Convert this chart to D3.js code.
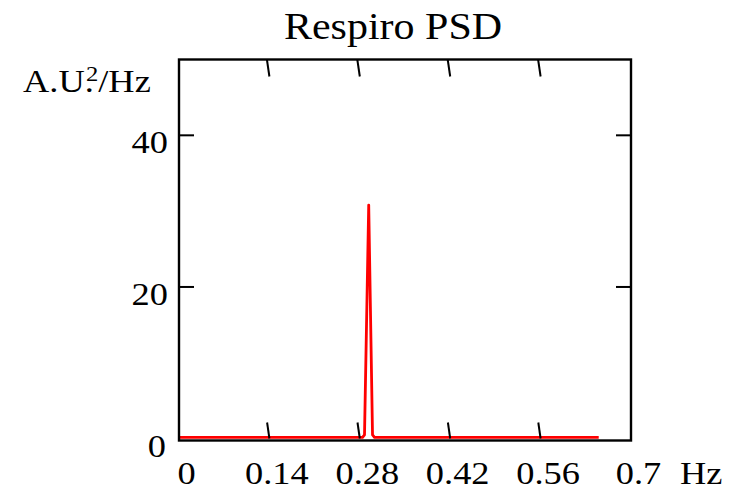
<!DOCTYPE html>
<html><head><meta charset="utf-8">
<script src="https://cdn.jsdelivr.net/npm/d3@7"></script>
<style>body{margin:0;background:#fff}svg{display:block}text{font-family:"Liberation Serif","Times New Roman",serif;fill:#000}</style>
</head><body><svg id="c" width="737" height="490"></svg>
<script>
const freq = [0, 0.2842, 0.2873, 0.2938, 0.2997, 0.3028, 0.65];
const psd  = [0.15, 0.15, 0.5, 30.8, 0.5, 0.15, 0.15];
const xTicks = [0.14, 0.28, 0.42, 0.56];
const xLabels = [0, 0.14, 0.28, 0.42, 0.56, 0.7];
const yTicks = [20, 40];
const yLabels = [0, 20, 40];
const title = "Respiro PSD";

const svg = d3.select("#c");
const L = 179, R = 631, T = 59.5, B = 440.5;
const x = d3.scaleLinear().domain([0, 0.7]).range([L, R]);
const y = d3.scaleLinear().domain([-0.25, 50]).range([B, T]);
const sx = 1.12;

// data line
svg.append("path").datum(freq.map((f, i) => [f, psd[i]]))
  .attr("fill", "none").attr("stroke", "#ff0000").attr("stroke-width", 2.8)
  .attr("stroke-linejoin", "round")
  .attr("d", d3.line().x(d => x(d[0])).y(d => y(d[1])));

// frame
svg.append("rect").attr("x", L).attr("y", T).attr("width", R - L).attr("height", B - T)
  .attr("fill", "none").attr("stroke", "#000").attr("stroke-width", 2.4);

// x ticks (slanted, inside, top and bottom)
const tl = 16;
xTicks.forEach(v => {
  svg.append("line").attr("x1", x(v) - 2.5).attr("y1", T).attr("x2", x(v)).attr("y2", T + tl + 1)
    .attr("stroke", "#000").attr("stroke-width", 2);
  svg.append("line").attr("x1", x(v) - 2.3).attr("y1", B - tl - 2).attr("x2", x(v)).attr("y2", B - 2)
    .attr("stroke", "#000").attr("stroke-width", 2);
});
yTicks.forEach(v => {
  svg.append("line").attr("x1", L).attr("y1", y(v)).attr("x2", L + 15).attr("y2", y(v))
    .attr("stroke", "#000").attr("stroke-width", 2);
  svg.append("line").attr("x1", R - 15).attr("y1", y(v)).attr("x2", R).attr("y2", y(v))
    .attr("stroke", "#000").attr("stroke-width", 2);
});

const fs = 32.5;
// x labels
svg.selectAll(".xl").data(xLabels).enter().append("text")
  .attr("transform", d => `translate(${x(d) + 7.5},484) scale(${sx},1)`)
  .attr("text-anchor", "middle").attr("font-size", fs).text(d => String(d));
svg.append("text").attr("transform", `translate(680,484) scale(${sx},1)`)
  .attr("font-size", fs).text("Hz");
// y labels
svg.selectAll(".yl").data(yLabels).enter().append("text")
  .attr("transform", d => `translate(${d === 0 ? 166 : 168},${y(d) + 18}) scale(${sx},1)`)
  .attr("text-anchor", "end").attr("font-size", fs).text(d => String(d));

// y unit label
const yl = svg.append("text").attr("transform", `translate(23,92) scale(${sx},1)`).attr("font-size", fs);
yl.append("tspan").text("A.U.");
yl.append("tspan").attr("dx", -7).attr("dy", -11).attr("font-size", 22).text("2");
yl.append("tspan").attr("dy", 11).text("/Hz");

// title
svg.append("text").attr("transform", `translate(393,38.5) scale(${sx},1)`)
  .attr("text-anchor", "middle").attr("font-size", 37.5).text(title);
</script></body></html>
